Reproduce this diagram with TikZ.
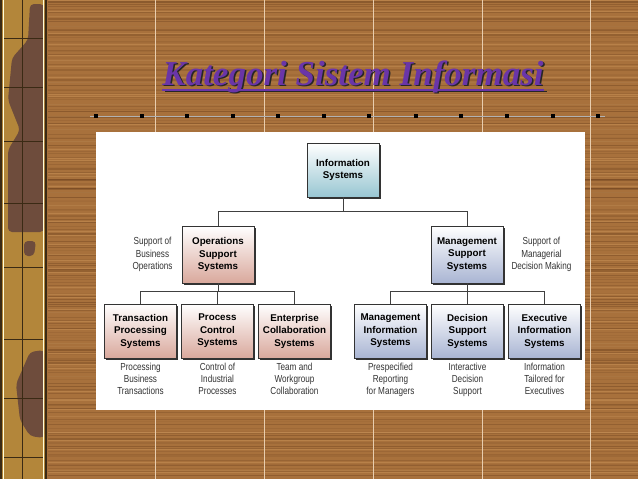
\documentclass[tikz,border=0pt]{standalone}
\usepackage{fontspec}
\setmainfont{Liberation Sans}
\newfontfamily\titlefont{Liberation Serif}
\newfontfamily\narrowfont[FakeStretch=0.8]{Liberation Sans}
\usetikzlibrary{positioning,shadows}

\definecolor{wood}{HTML}{A8713C}
\definecolor{woodDark}{HTML}{5E3516}
\definecolor{woodLight}{HTML}{D09A5E}
\definecolor{stripGold}{HTML}{B3863A}
\definecolor{stripBrown}{HTML}{6E4C3C}
\definecolor{stripLine}{HTML}{3A2A14}
\definecolor{titlePurple}{HTML}{6A35A8}
\definecolor{opsPink}{HTML}{D9A89C}
\definecolor{misBlue}{HTML}{A9B5D3}
\definecolor{isTeal}{HTML}{98C6D2}

\begin{document}
\begin{tikzpicture}[x=1pt, y=-1pt,
  sysbox/.style={draw=black!80, line width=0.6pt, minimum width=72pt, minimum height=54pt,
    align=center, inner sep=1pt, font=\fontsize{9.8}{12.5}\selectfont\bfseries,
    drop shadow={shadow xshift=1.6pt, shadow yshift=-1.6pt, fill=black!80, opacity=1}},
  opsbox/.style={sysbox, top color=white, bottom color=opsPink},
  mgmtbox/.style={sysbox, top color=white, bottom color=misBlue},
  desc/.style={align=center, inner sep=1pt, text=black!80,
    font=\narrowfont\fontsize{10.2}{12}\selectfont},
  link/.style={draw=black!75, line width=0.6pt}
]
\useasboundingbox (0,0) rectangle (638,479);

% wood background
\fill[wood] (0,0) rectangle (638,479);
\pgfmathsetseed{11}
\foreach \k in {0,...,158}{
  \pgfmathsetmacro{\yy}{3*\k+rnd*3}
  \pgfmathsetmacro{\op}{0.05+rnd*0.35}
  \draw[woodDark, opacity=\op, line width=1.1pt] (48,\yy) -- (638,\yy);
}
\foreach \k in {0,...,60}{
  \pgfmathsetmacro{\yy}{8*\k+rnd*8}
  \draw[woodLight, opacity=0.4, line width=0.9pt] (48,\yy) -- (638,\yy);
}
\foreach \xx in {155,264,373,482,590}
  \draw[woodLight!50!white, line width=0.5pt] (\xx,0) -- (\xx,479);

% left strip
\fill[stripGold] (0,0) rectangle (47,479);
\fill[stripBrown, rounded corners=4pt] (30,4) -- (44,4) -- (44,232) -- (8,232) -- (8,150)
  -- (20,130) -- (8,100) -- (12,58) -- (28,40) -- cycle;
\fill[stripBrown, rounded corners=4pt] (24,241) -- (36,241) -- (34,256) -- (24,256) -- cycle;
\fill[stripBrown, rounded corners=4pt] (30,352) -- (44,350) -- (44,438) -- (30,436)
  -- (20,420) -- (16,384) -- cycle;
\draw[stripLine, line width=1.2pt] (1,0) -- (1,479) (46,0) -- (46,479);
\draw[white!85!yellow, line width=0.6pt] (3.5,0) -- (3.5,479) (43.5,0) -- (43.5,479);
\draw[stripLine, line width=0.5pt] (22,0) -- (22,479);
\foreach \yy in {38,87,141,203,267,339,398,457}
  \draw[stripLine, line width=0.5pt] (4,\yy) -- (43,\yy);

% title
\node[anchor=base, inner sep=0pt, text=black!85, font=\titlefont\fontsize{35}{35}\selectfont\bfseries\itshape]
  (titleshadow) at (354.5,86.5) {Kategori Sistem Informasi};
\draw[black!85, line width=1.6pt] ([xshift=1.5pt, yshift=-5pt]titleshadow.base west)
  -- ([xshift=1.5pt, yshift=-5pt]titleshadow.base east);
\node[anchor=base, inner sep=0pt, text=titlePurple, font=\titlefont\fontsize{35}{35}\selectfont\bfseries\itshape]
  (title) at (353,85) {Kategori Sistem Informasi};
\draw[titlePurple, line width=1.6pt] ([yshift=-5pt]title.base west) -- ([yshift=-5pt]title.base east);

% dotted rule
\draw[black!30, line width=0.4pt] (90,116) -- (605,116);
\foreach \xx in {96,142,187,233,278,324,369,416,461,507,553,598}
  \fill[black] (\xx-1.6,116-1.6) rectangle (\xx+1.6,116+1.6);

% white panel
\fill[white] (96,132) rectangle (585,410);

% top levels
\node[sysbox, top color=white, bottom color=isTeal] (is) at (343,170) {Information\\Systems};
\node[opsbox, minimum height=57pt] (oss) at (218,254.5) {Operations\\Support\\Systems};
\node[mgmtbox, minimum height=57pt] (mss) at (467,254.5) {Management\\Support\\Systems};
\node[desc, left=8pt of oss, font=\narrowfont\fontsize{10.2}{12.8}\selectfont] (ossnote) {Support of\\Business\\Operations};
\node[desc, right=7pt of mss, font=\narrowfont\fontsize{10.2}{12.8}\selectfont] (mssnote) {Support of\\Managerial\\Decision Making};

% bottom level
\node[opsbox] (tps) at (140.5,331) {Transaction\\Processing\\Systems};
\node[opsbox] (pcs) at (217.5,331) {Process\\Control\\Systems};
\node[opsbox] (ecs) at (294.5,331) {Enterprise\\Collaboration\\Systems};
\node[mgmtbox] (mis) at (390.5,331) {Management\\Information\\Systems};
\node[mgmtbox] (dss) at (467.5,331) {Decision\\Support\\Systems};
\node[mgmtbox] (eis) at (544.5,331) {Executive\\Information\\Systems};

\node[desc, below=4pt of tps] (tpsnote) {Processing\\Business\\Transactions};
\node[desc, below=4pt of pcs] (pcsnote) {Control of\\Industrial\\Processes};
\node[desc, below=4pt of ecs] (ecsnote) {Team and\\Workgroup\\Collaboration};
\node[desc, below=4pt of mis] (misnote) {Prespecified\\Reporting\\for Managers};
\node[desc, below=4pt of dss] (dssnote) {Interactive\\Decision\\Support};
\node[desc, below=4pt of eis] (eisnote) {Information\\Tailored for\\Executives};

% connectors
\coordinate (topbar) at (343,211);
\coordinate (leftbar) at (218,291);
\coordinate (rightbar) at (467,291);
\draw[link] (is.south) -- (topbar) -| (oss.north);
\draw[link] (topbar) -| (mss.north);
\draw[link] (oss.south) -- (leftbar) -| (tps.north);
\draw[link] (leftbar) -| (ecs.north);
\draw[link] (leftbar) -| (pcs.north);
\draw[link] (mss.south) -- (rightbar) -| (mis.north);
\draw[link] (rightbar) -| (eis.north);
\draw[link] (rightbar) -| (dss.north);
\end{tikzpicture}
\end{document}
